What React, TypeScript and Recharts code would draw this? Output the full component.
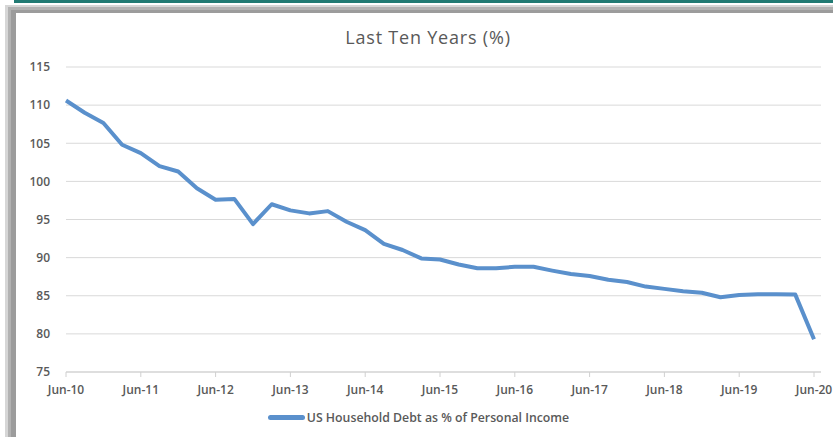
import React from 'react';
import { LineChart, Line, XAxis, YAxis, CartesianGrid, Legend } from 'recharts';

// quarterly readings, Jun-10 .. Jun-20
const debtPct = [
  110.6, 109.0, 107.65, 104.8, 103.7, 102.0, 101.3, 99.1, 97.6, 97.7,
  94.4, 97.0, 96.2, 95.8, 96.1, 94.7, 93.6, 91.8, 91.0, 89.9,
  89.75, 89.1, 88.6, 88.6, 88.8, 88.8, 88.3, 87.85, 87.6, 87.1,
  86.8, 86.2, 85.9, 85.6, 85.4, 84.8, 85.1, 85.2, 85.2, 85.15,
  79.3,
];

const yearLabels = [
  'Jun-10', 'Jun-11', 'Jun-12', 'Jun-13', 'Jun-14', 'Jun-15',
  'Jun-16', 'Jun-17', 'Jun-18', 'Jun-19', 'Jun-20',
];

const yTicks = [75, 80, 85, 90, 95, 100, 105, 110, 115];
const seriesName = 'US Household Debt as % of Personal Income';

const data = debtPct.map((v, i) => ({ q: i, debt: v }));
const xTicks = yearLabels.map((_, i) => i * 4);

const FONT = '"Open Sans", sans-serif';
const LINE_COLOR = '#5a90cc';

const LegendBox = () => (
  <div
    style={{
      display: 'flex',
      justifyContent: 'center',
      alignItems: 'center',
      height: 20,
      fontFamily: FONT,
      fontSize: 12.3,
      fontWeight: 600,
      color: '#595959',
    }}
  >
    <span
      style={{
        display: 'inline-block',
        width: 37,
        height: 5,
        borderRadius: 2.5,
        background: LINE_COLOR,
        marginRight: 2,
      }}
    />
    {seriesName}
  </div>
);

const App = () => {
  return (
    <div style={{ position: 'absolute', left: 0, top: 0, width: 833, height: 437, overflow: 'hidden', background: '#fff' }}>
      <div style={{ position: 'absolute', left: 14, top: 0, right: 0, height: 3, background: '#217a73' }} />
      <div style={{ position: 'absolute', left: 5, top: 5, width: 900, height: 500, background: '#d6d6d6' }} />
      <div style={{ position: 'absolute', left: 8, top: 7, width: 900, height: 500, background: '#b2b2b2' }} />
      <div style={{ position: 'absolute', left: 11, top: 10, width: 900, height: 500, background: '#9c9c9c' }} />
      <div style={{ position: 'absolute', left: 16, top: 13, width: 900, height: 500, background: '#ffffff' }} />
      <div
        style={{
          position: 'absolute',
          left: 0,
          top: 25,
          width: 856,
          textAlign: 'center',
          fontFamily: FONT,
          fontSize: 18,
          letterSpacing: 0.8,
          color: '#595959',
        }}
      >
        Last Ten Years (%)
      </div>
      <div style={{ position: 'absolute', left: 0, top: 0 }}>
        <LineChart width={833} height={437} data={data} margin={{ top: 67, right: 12, bottom: 10, left: 16 }}>
          <CartesianGrid vertical={false} stroke="#d9d9d9" />
          <XAxis
            dataKey="q"
            type="number"
            domain={[0, 40]}
            ticks={xTicks}
            tickFormatter={(v: number) => yearLabels[v / 4]}
            padding={{ left: 0, right: 7 }}
            height={35}
            stroke="#d0d0d0"
            tickSize={5}
            tickMargin={8}
            interval={0}
            tick={{ fill: '#595959', fontSize: 12, fontWeight: 600, fontFamily: FONT }}
          />
          <YAxis
            domain={[75, 115]}
            ticks={yTicks}
            width={50}
            axisLine={false}
            tickLine={false}
            tickSize={0}
            tickMargin={16}
            tick={{ fill: '#595959', fontSize: 12, fontWeight: 600, fontFamily: FONT }}
          />
          <Legend verticalAlign="bottom" content={() => <LegendBox />} />
          <Line
            type="linear"
            dataKey="debt"
            name={seriesName}
            stroke={LINE_COLOR}
            strokeWidth={4}
            strokeLinejoin="round"
            dot={false}
            isAnimationActive={false}
          />
        </LineChart>
      </div>
    </div>
  );
};

export default App;
